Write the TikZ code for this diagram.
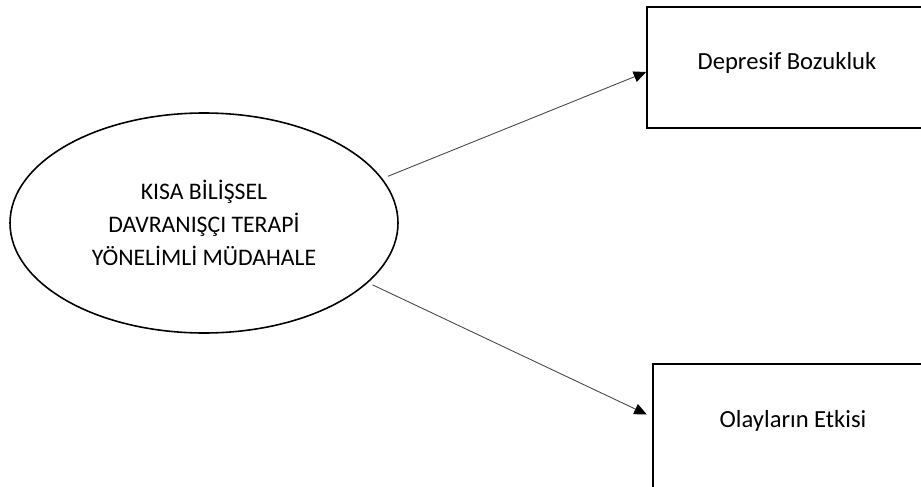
\documentclass[tikz,border=0pt]{standalone}
\usepackage{fontspec}
\setmainfont{Carlito}
\usepackage{tikz}
\usetikzlibrary{positioning,arrows.meta,shapes.geometric}
\definecolor{cizgi}{RGB}{70,70,70}

\begin{document}
\begin{tikzpicture}[
  elips/.style={draw, ellipse, line width=0.9pt, minimum width=7.76cm,
                minimum height=4.4cm, align=center,
                font=\fontsize{13.5}{18.8}\selectfont},
  kutu/.style={draw, rectangle, line width=0.9pt, minimum width=5.6cm,
               minimum height=2.42cm, font=\fontsize{14}{16}\selectfont},
  ok/.style={-{Triangle[length=2.5mm,width=2.2mm,color=black]}, line width=0.5pt, color=cizgi}]
  \useasboundingbox (0,0) rectangle (18.42,9.72);
  \clip (0,0) rectangle (18.42,9.72);
  \node[elips] (mudahale) at (4.08,5.26)
    {KISA BİLİŞSEL\\DAVRANIŞÇI TERAPİ\\YÖNELİMLİ MÜDAHALE};
  \node[kutu, text depth=0.26cm] (depresif) at (15.74,8.37) {Depresif Bozukluk};
  \node[kutu, minimum height=2.7cm, text depth=0.5cm] (olaylar) at (15.86,1.09) {Olayların Etkisi};
  \draw[ok, shorten <=1.2mm] (mudahale.14) -- ([yshift=-0.9mm]depresif.west);
  \draw[ok, shorten <=1mm, shorten >=1.2mm] (mudahale.340) -- ([yshift=2.9mm]olaylar.west);
\end{tikzpicture}
\end{document}
